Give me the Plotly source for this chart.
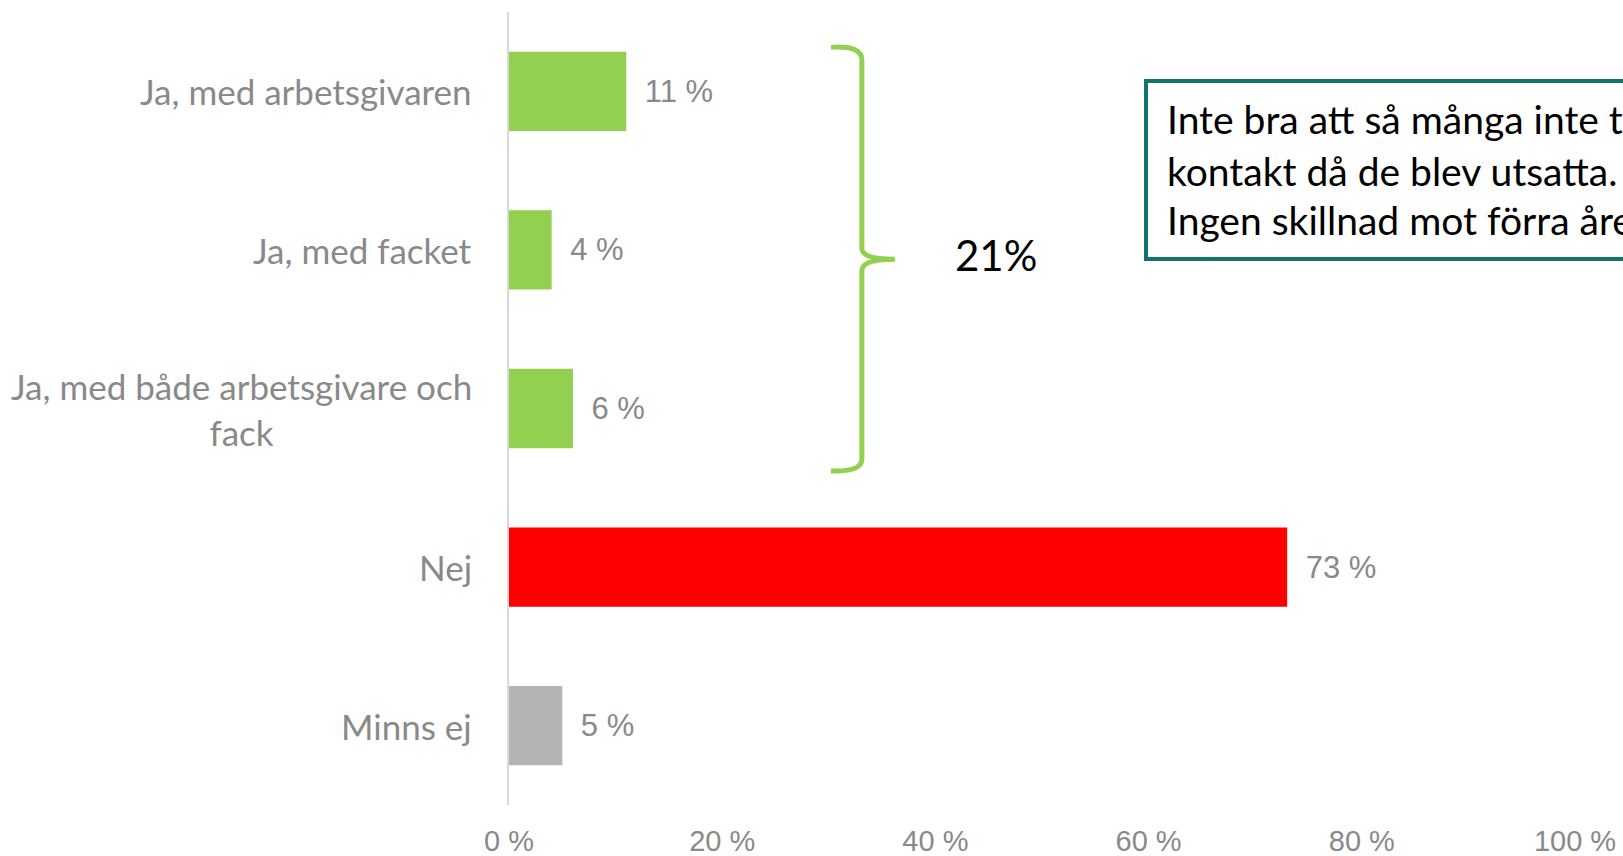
import plotly.graph_objects as go

CATEGORIES = ["Ja, med arbetsgivaren", "Ja, med facket",
              "Ja, med både arbetsgivare och<br>fack", "Nej", "Minns ej"]
VALUES = [11, 4, 6, 73, 5]
COLORS = ["#92D050", "#92D050", "#92D050", "#FF0000", "#B4B4B4"]
X_TICKS = [0, 20, 40, 60, 80, 100]
X_TICK_LABELS = ["0 %", "20 %", "40 %", "60 %", "80 %", "100 %"]
BRACE_LABEL = "21%"
BOX_LINES = ["Inte bra att så många inte tog",
             "kontakt då de blev utsatta.",
             "Ingen skillnad mot förra året."]

GRAY = "#898989"
W, H = 1623, 856
# plot area in page pixels
PX0, PX1, PY0, PY1 = 509, 1575, 12, 805
L, R = PX0, W - PX1
T, B = PY0, H - PY1
PW, PH = PX1 - PX0, PY1 - PY0

def px(xp):
    return (xp - PX0) / PW

def py(yp):
    return (PY1 - yp) / PH

ypos = list(range(len(CATEGORIES)))

fig = go.Figure()
fig.add_trace(go.Bar(
    x=VALUES, y=ypos, orientation="h",
    marker=dict(color=COLORS, line=dict(width=0)),
    text=["\u2002" + f"{v} %" for v in VALUES],
    textposition="outside", cliponaxis=False,
    textfont=dict(family="Liberation Sans, Arial", size=31, color=GRAY),
    hoverinfo="skip",
))

annotations = []
for i, c in enumerate(CATEGORIES):
    annotations.append(dict(
        text=c, x=px(474), xref="paper", y=i, yref="y",
        xanchor="right", yanchor="middle", align="center", showarrow=False,
        font=dict(family="Lato", size=35, color=GRAY)))

annotations.append(dict(
    text=BRACE_LABEL, x=45.7, xref="x", y=1.03, yref="y",
    xanchor="center", yanchor="middle", showarrow=False,
    font=dict(family="Lato", size=42, color="#000000")))

for line, yp in zip(BOX_LINES, [119, 171, 220]):
    annotations.append(dict(
        text=line, x=px(1165), xref="paper", y=py(yp), yref="paper",
        xanchor="left", yanchor="middle", showarrow=False,
        font=dict(family="Lato", size=39, color="#000000")))

brace = ("M 30.2,-0.277 Q 33.1,-0.29 33.1,-0.2 L 33.1,0.99 "
         "Q 33.1,1.059 36.2,1.059 Q 33.1,1.059 33.1,1.13 "
         "L 33.1,2.32 Q 33.1,2.40 30.2,2.394")

shapes = [
    dict(type="path", path=brace, xref="x", yref="y",
         line=dict(color="#92D050", width=5)),
    dict(type="rect", xref="paper", yref="paper",
         x0=px(1146), x1=px(1700), y0=py(259), y1=py(81),
         line=dict(color="#127270", width=4), fillcolor="rgba(0,0,0,0)"),
]

fig.update_layout(
    width=W, height=H,
    margin=dict(l=L, r=R, t=T, b=B, autoexpand=False),
    paper_bgcolor="white", plot_bgcolor="white",
    showlegend=False, bargap=0.5,
    annotations=annotations, shapes=shapes,
    xaxis=dict(range=[0, 100], tickvals=X_TICKS, ticktext=X_TICK_LABELS,
               automargin=False,
               showgrid=False, zeroline=False, showline=False,
               ticks="outside", ticklen=10, tickcolor="rgba(0,0,0,0)",
               tickfont=dict(family="Liberation Sans, Arial", size=29, color=GRAY)),
    yaxis=dict(range=[len(CATEGORIES) - 0.5, -0.5], tickvals=ypos,
               automargin=False,
               showticklabels=False, showgrid=False, zeroline=False,
               showline=True, linecolor="#D9D9D9", linewidth=2),
)

fig.write_html("out.html",
               config={"displayModeBar": False},
               post_script="document.body.style.margin='0';"
                           "document.body.style.overflow='hidden';")
